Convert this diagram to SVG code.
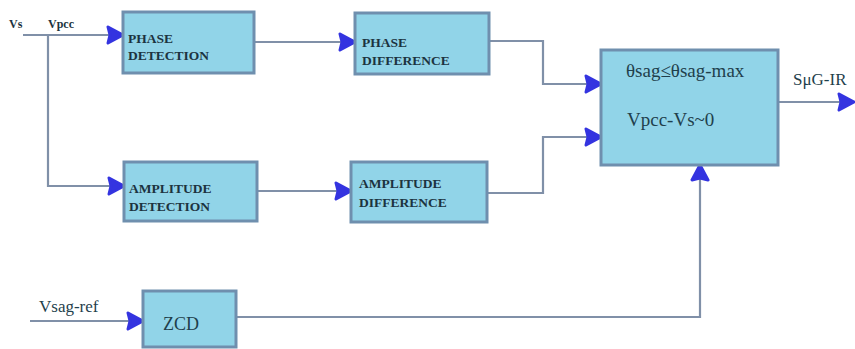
<svg xmlns="http://www.w3.org/2000/svg" width="855" height="349" viewBox="0 0 855 349">
<defs>
<marker id="arr" markerUnits="userSpaceOnUse" markerWidth="20" markerHeight="20" viewBox="0 0 20 20" refX="17" refY="10" orient="auto">
<path d="M2,2 L17,10 L2,18 L4,10 Z" fill="#3434e0" stroke="#3434e0" stroke-width="3" stroke-linejoin="round"/>
</marker>
<style>
.box{fill:#91d4e8;stroke:#6f8fae;stroke-width:3}
.ln{fill:none;stroke:#8090a8;stroke-width:2.2}
.bt{font-family:"Liberation Serif","DejaVu Serif","Times New Roman",serif;font-weight:bold;fill:#1c3340}
.lt{font-family:"Liberation Serif","DejaVu Serif","Times New Roman",serif;fill:#1f3f4c}
</style>
</defs>
<rect width="855" height="349" fill="#ffffff"/>
<g id="connectors">
<path class="ln" d="M23,35 H123" marker-end="url(#arr)"/>
<path class="ln" d="M48,35 V186 H124" marker-end="url(#arr)"/>
<path class="ln" d="M254,42 H355" marker-end="url(#arr)"/>
<path class="ln" d="M489,41 H543 V84 H601" marker-end="url(#arr)"/>
<path class="ln" d="M257,191 H351" marker-end="url(#arr)"/>
<path class="ln" d="M487,193 H543 V137 H601" marker-end="url(#arr)"/>
<path class="ln" d="M778,102 H854" marker-end="url(#arr)"/>
<path class="ln" d="M30,321 H143" marker-end="url(#arr)"/>
<path class="ln" d="M236,317 H700 V165" marker-end="url(#arr)"/>
</g>
<g id="labels">
<text class="bt" x="9" y="28" font-size="12">Vs</text>
<text class="bt" x="48" y="28" font-size="12">Vpcc</text>
<text class="lt" x="39" y="312" font-size="17">Vsag-ref</text>
<text class="lt" x="793" y="85" font-size="17">SμG-IR</text>
</g>
<g id="phase-detection">
<rect class="box" x="123" y="12" width="131" height="61"/>
<text class="bt" x="128" y="43" font-size="13.5">PHASE</text>
<text class="bt" x="128" y="60" font-size="13.5">DETECTION</text>
</g>
<g id="phase-difference">
<rect class="box" x="355" y="13" width="134" height="61"/>
<text class="bt" x="362" y="47" font-size="13.5">PHASE</text>
<text class="bt" x="362" y="65" font-size="13.5">DIFFERENCE</text>
</g>
<g id="amplitude-detection">
<rect class="box" x="124" y="162" width="133" height="59"/>
<text class="bt" x="129" y="193" font-size="13.5">AMPLITUDE</text>
<text class="bt" x="129" y="211" font-size="13.5">DETECTION</text>
</g>
<g id="amplitude-difference">
<rect class="box" x="351" y="162" width="136" height="60"/>
<text class="bt" x="359" y="188" font-size="13.5">AMPLITUDE</text>
<text class="bt" x="359" y="207" font-size="13.5">DIFFERENCE</text>
</g>
<g id="controller">
<rect class="box" x="601" y="50" width="177" height="115"/>
<text class="lt" x="626" y="77" font-size="19">θsag≤θsag-max</text>
<text class="lt" x="627" y="126" font-size="19">Vpcc-Vs~0</text>
</g>
<g id="zcd">
<rect class="box" x="143" y="291" width="93" height="56"/>
<text class="lt" x="163" y="330" font-size="18">ZCD</text>
</g>
</svg>
